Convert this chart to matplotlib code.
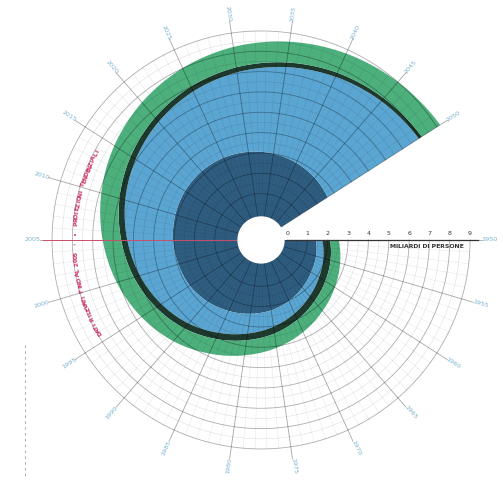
import numpy as np
import matplotlib.pyplot as plt
from matplotlib.lines import Line2D

# world population by group, billions, read every 5 years 1950-2050
years = np.arange(1950, 2051, 5)
world = np.array([2.54, 2.77, 3.03, 3.34, 3.70, 4.08, 4.45, 4.86, 5.31, 5.72, 6.12,
                  6.51, 6.91, 7.30, 7.67, 8.01, 8.31, 8.57, 8.80, 9.00, 9.19])
more_dev = np.array([0.81, 0.86, 0.92, 0.97, 1.01, 1.05, 1.08, 1.12, 1.15, 1.17, 1.19,
                     1.21, 1.23, 1.25, 1.26, 1.26, 1.26, 1.26, 1.26, 1.25, 1.25])
more_dev_urban = np.array([0.43, 0.49, 0.56, 0.62, 0.67, 0.71, 0.75, 0.79, 0.83, 0.86, 0.88,
                           0.91, 0.93, 0.96, 0.98, 0.99, 1.01, 1.03, 1.04, 1.06, 1.07])
less_dev_urban = np.array([0.31, 0.37, 0.46, 0.55, 0.67, 0.81, 0.98, 1.18, 1.42, 1.66, 1.97,
                           2.25, 2.56, 2.88, 3.22, 3.58, 3.95, 4.30, 4.65, 4.99, 5.33])
less_dev_rural = world - more_dev - less_dev_urban

radial_ticks = list(range(0, 10))
label_years = list(range(1950, 2051, 5))
last_observed = 2005

span = 110.0  # one turn = 110 years


def ang(y):
    return (np.asarray(y, dtype=float) - 1950) * 2 * np.pi / span


fig = plt.figure(figsize=(5.03, 4.8), dpi=100)
ax = fig.add_axes([0.063, 0.0223, 0.912, 0.9556], projection="polar")
ax.set_theta_zero_location("E")
ax.set_theta_direction(-1)
ax.set_ylim(0, 10)
ax.set_rorigin(-1.279)
ax.set_axis_off()

th = ang(years)
hole = -0.15
b1 = less_dev_rural
b2 = b1 + less_dev_urban
b3 = b2 + (more_dev - more_dev_urban)
b4 = world

layers = [(np.full_like(b1, hole), b1, "#2f5d80"),
          (b1, b2, "#5aa5d2"),
          (b2, b3, "#1e3a2f"),
          (b3, b4, "#4caf7c")]
for lo, hi, col in layers:
    polys = ax.fill(np.concatenate([th, th[::-1]]), np.concatenate([hi, lo[::-1]]),
                    color=col, lw=0, zorder=2, clip_on=False)
    for p in polys:
        p.get_path()._interpolation_steps = 40

# grid: rings and spokes only over 1950-2050
end = ang(2050)
tt = np.linspace(0, end, 500)
for r in np.arange(0.5, 9.01, 0.5):
    major = abs(r - round(r)) < 1e-6
    ax.plot(tt, np.full_like(tt, r), color="black", alpha=0.32 if major else 0.13,
            lw=0.6 if major else 0.4, zorder=3, clip_on=False)
for y in range(1950, 2051):
    major = y % 5 == 0
    ax.plot([ang(y), ang(y)], [hole, 9.6 if major else 9.0], color="black",
            alpha=0.35 if major else 0.1, lw=0.6 if major else 0.35, zorder=3, clip_on=False)

# 1950 axis with scale
ax.plot([0, 0], [0, 9.4], color="#333333", lw=0.9, zorder=4, clip_on=False)
for v in radial_ticks:
    ax.annotate(str(v), xy=(0, v), xytext=(0, 2.5), textcoords="offset points",
                ha="center", va="bottom", fontsize=4.5, color="#333333", zorder=5,
                annotation_clip=False)
ax.annotate("MILIARDI DI PERSONE", xy=(0, 8.7), xytext=(0, -3), textcoords="offset points",
            ha="right", va="top", fontsize=4.4, fontweight="bold", color="#333333",
            annotation_clip=False)

# boundary between observed data and projections
ax.plot([ang(last_observed)] * 2, [hole, 9.45], color="#c9506e", lw=0.7, zorder=4,
        clip_on=False)

# hole
ax.fill(np.linspace(0, 2 * np.pi, 200), np.full(200, hole), color="white", zorder=6,
        clip_on=False)

# year labels, radial
for y in label_years:
    a = np.degrees(ang(y))
    rot = -a if (a < 90 or a > 270) else 180 - a
    ax.text(ang(y), 9.95, str(y), rotation=rot, rotation_mode="anchor", ha="center",
            va="center", fontsize=4.6, color="#7ab2cf", clip_on=False)


def arc_text(s, r, a0, step):
    for i, ch in enumerate(s):
        a = a0 + i * step
        ax.text(np.radians(a), r, ch, rotation=270 - a, rotation_mode="anchor",
                ha="center", va="center", fontsize=4.4, fontweight="bold",
                color="#cc3060", clip_on=False)


arc_text("DATI RILEVATI FINO AL 2005  \u2039", 7.87, 150.0, 1.03)
arc_text("\u2022  PROIEZIONI TENDENZIALI", 7.87, 181.8, 1.11)

# scan fold mark at left edge
fig.add_artist(Line2D([25 / 503, 25 / 503], [1 - 345 / 480, 1 - 478 / 480],
                      ls=(0, (3, 4)), color="#999999", lw=0.6))

fig.savefig("out.png", dpi=100, facecolor="white")
